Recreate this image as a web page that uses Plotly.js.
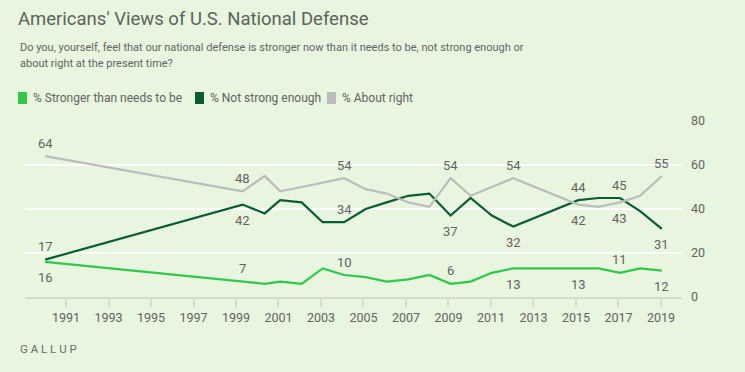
<!DOCTYPE html>
<html>
<head>
<meta charset="utf-8">
<script src="https://cdn.plot.ly/plotly-3.0.1.min.js"></script>
<style>html,body{margin:0;padding:0;background:#e8f5df;}</style>
</head>
<body>
<div id="chart" style="width:745px;height:372px;"></div>
<script>
// ---- data ----
const years = [1990.02, 1999.31, 2000.35, 2001.08, 2002.09, 2003.08, 2004.09, 2005.1, 2006.09, 2007.11, 2008.1, 2009.1, 2010.04, 2011.04, 2012.05, 2015.11, 2016.06, 2017.07, 2018.02, 2019.04];
const aboutRight = [64, 48, 55, 48, 50, 52, 54, 49, 47, 43, 41, 54, 46, 50, 54, 42, 41, 43, 46, 55];
const notStrongEnough = [17, 42, 38, 44, 43, 34, 34, 40, 43, 46, 47, 37, 45, 37, 32, 44, 45, 45, 39, 31];
const strongerThanNeeded = [16, 7, 6, 7, 6, 13, 10, 9, 7, 8, 10, 6, 7, 11, 13, 13, 13, 11, 13, 12];
const seriesNames = ['% Stronger than needs to be', '% Not strong enough', '% About right'];
const xTickYears = [1991, 1993, 1995, 1997, 1999, 2001, 2003, 2005, 2007, 2009, 2011, 2013, 2015, 2017, 2019];
const yTickValues = [0, 20, 40, 60, 80];
const titleText = "Americans' Views of U.S. National Defense";
const subtitleLines = ['Do you, yourself, feel that our national defense is stronger now than it needs to be, not strong enough or', 'about right at the present time?'];
const sourceText = 'G A L L U P';

// ---- style ----
const FONT = 'Roboto, "DejaVu Sans Condensed", sans-serif';
const ST = 'condensed';
const C_LIGHT = '#2fc84a';
const C_DARK = '#0a5c31';
const C_GRAY = '#bcbcbc';
const TXT = '#636363';
const f = (size, color) => ({family: FONT, size: size, color: color || TXT, stretch: ST});

// labelled points: [index, 'top'|'bottom']
const labelsAbout = [[0,'t'],[1,'t'],[6,'t'],[11,'t'],[14,'t'],[15,'b'],[17,'b'],[19,'t']];
const labelsNot = [[0,'t'],[1,'b'],[6,'t'],[11,'b'],[14,'b'],[15,'t'],[17,'t'],[19,'b']];
const labelsStrong = [[0,'b'],[1,'t'],[6,'t'],[11,'t'],[14,'b'],[15,'b'],[17,'t'],[19,'b']];

const traces = [
  {x: years, y: strongerThanNeeded, name: seriesNames[0], mode: 'lines', line: {color: C_LIGHT, width: 2.2}, showlegend: false, hoverinfo: 'skip'},
  {x: years, y: notStrongEnough, name: seriesNames[1], mode: 'lines', line: {color: C_DARK, width: 2.2}, showlegend: false, hoverinfo: 'skip'},
  {x: years, y: aboutRight, name: seriesNames[2], mode: 'lines', line: {color: C_GRAY, width: 2.2}, showlegend: false, hoverinfo: 'skip'}
];

const annotations = [];
function addLabels(vals, list) {
  list.forEach(([i, pos]) => {
    annotations.push({
      x: years[i], y: vals[i], xref: 'x', yref: 'y', text: String(vals[i]),
      showarrow: false, yshift: pos === 't' ? 13 : -16,
      font: f(13)
    });
  });
}
addLabels(aboutRight, labelsAbout);
addLabels(notStrongEnough, labelsNot);
addLabels(strongerThanNeeded, labelsStrong);

// geometry helpers (pixels -> paper)
const ML = 25, MR = 63, MT = 121, MB = 75, W = 745, H = 372;
const PW = W - ML - MR, PH = H - MT - MB;
const px = v => (v - ML) / PW;
const py = v => (H - MB - v) / PH;

// subtitle
[47, 64].forEach((yy, k) => {
  annotations.push({
    xref: 'paper', yref: 'paper', x: px(18), y: py(yy), xanchor: 'left', yanchor: 'middle', align: 'left',
    text: subtitleLines[k], showarrow: false, font: f(11)
  });
});
// source
annotations.push({
  xref: 'paper', yref: 'paper', x: px(18), y: py(349), xanchor: 'left', yanchor: 'middle',
  text: sourceText, showarrow: false, font: f(11.5, '#6a6a6a')
});

// manual legend (squares + labels)
const legendX = [18, 195, 327];
const legendColors = [C_LIGHT, C_DARK, C_GRAY];
const shapes = [];
legendX.forEach((lx, k) => {
  shapes.push({type: 'rect', xref: 'paper', yref: 'paper', x0: px(lx), x1: px(lx + 9), y0: py(104), y1: py(92), fillcolor: legendColors[k], line: {width: 0}});
  annotations.push({xref: 'paper', yref: 'paper', x: px(lx + 13), y: py(98), xanchor: 'left', yanchor: 'middle',
    text: seriesNames[k], showarrow: false, font: f(12)});
});

const layout = {
  width: W, height: H,
  margin: {l: ML, r: MR, t: MT, b: MB, pad: 0},
  paper_bgcolor: '#e8f5df', plot_bgcolor: '#e8f5df',
  title: {text: titleText, x: 18 / W, xref: 'container', xanchor: 'left', y: 1 - 19 / H, yref: 'container', yanchor: 'middle',
    font: f(18.5, '#5b635b')},
  showlegend: false,
  xaxis: {range: [1989.07, 2019.99], tickvals: xTickYears, ticktext: xTickYears.map(String), showgrid: false, zeroline: false,
    showline: true, linecolor: '#d4dccf', linewidth: 2, ticks: 'outside', ticklen: 8, tickwidth: 2, tickcolor: '#d4dccf',
    tickfont: f(12.5), fixedrange: true},
  yaxis: {range: [0, 80], side: 'right', tickvals: yTickValues, showgrid: true, gridcolor: '#ffffff', gridwidth: 2, zeroline: false,
    showline: false, ticks: '', ticklabelstandoff: 8, tickfont: f(12.5), fixedrange: true},
  annotations: annotations,
  shapes: shapes
};

Plotly.newPlot('chart', traces, layout, {displayModeBar: false, staticPlot: true});
</script>
</body>
</html>
